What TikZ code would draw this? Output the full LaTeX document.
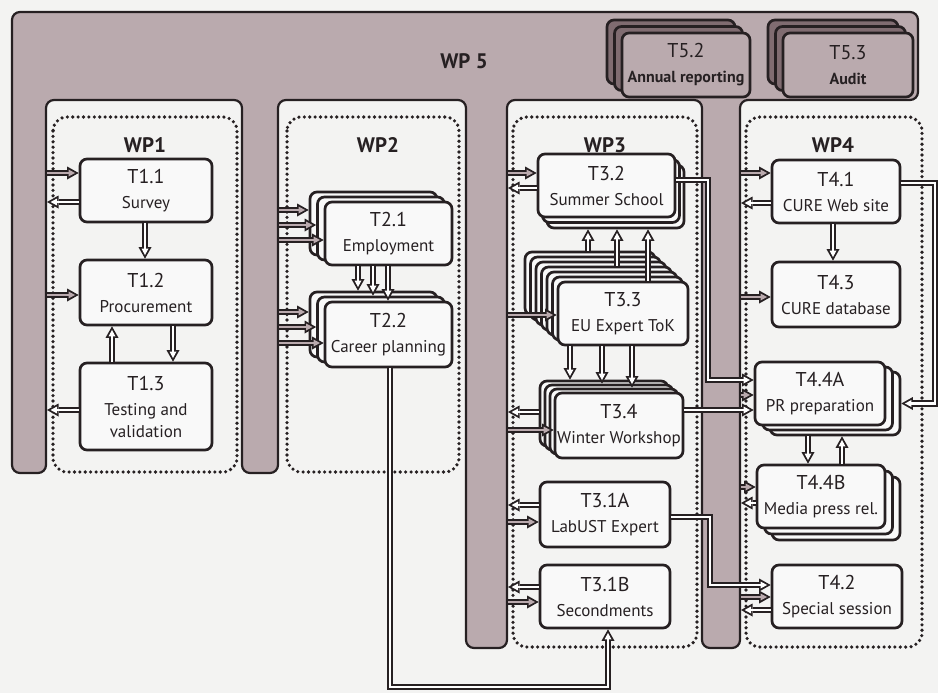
\documentclass[tikz,border=0pt]{standalone}
\usepackage{fontspec}
\setmainfont{PT Sans}
\usetikzlibrary{positioning, arrows.meta, calc}

\definecolor{ink}{RGB}{38,32,34}
\definecolor{wpfill}{RGB}{186,170,174}
\definecolor{wpdark}{RGB}{128,108,113}
\definecolor{paper}{RGB}{243,243,242}
\definecolor{boxfill}{RGB}{249,249,249}

\newcommand{\tfont}{\fontsize{20}{25}\selectfont}
\newcommand{\wfont}{\bfseries\fontsize{21}{25}\selectfont}
\newcommand{\tasksub}[1]{{\fontsize{17}{25}\selectfont #1}}

\begin{document}
\begin{tikzpicture}[
    x=1pt, y=-1pt, line join=miter,
    task/.style={draw=ink, fill=boxfill, line width=2.7pt, rounded corners=7pt,
                 align=center, inner sep=1pt, font=\tfont, text=ink,
                 minimum width=130pt, minimum height=63pt},
    wptask/.style={task, fill=wpfill},
    shade/.style={task, fill=wpdark},
    wpframe/.style={draw=ink, line width=3.6pt, dash pattern=on 0pt off 5.4pt,
                    line cap=round, rounded corners=14pt},
    wplabel/.style={font=\wfont, text=ink},
    dbl/.style={line width=2.4pt, shorten >=3.6pt,
                -{Triangle[length=6.5pt, width=7pt, line width=0pt]},
                preaction={draw=ink, line width=6.4pt, shorten >=0pt,
                           -{Triangle[length=11.5pt, width=13pt, line width=0pt]}}},
    link/.style={dbl, draw=white},
    back/.style={dbl, draw=white},
    feed/.style={dbl, draw=wpfill}
]
\fill[paper] (0,0) rectangle (938,693);
\useasboundingbox (0,0) rectangle (938,693);

% WP5 frame with its legs
\draw[fill=wpfill, draw=ink, line width=2.2pt, rounded corners=8pt]
  (12,473) -- (12,12) -- (918,12) -- (918,100) -- (740,100) -- (740,648)
  -- (702,648) -- (702,100) -- (507,100) -- (507,648) -- (466,648) -- (466,100)
  -- (278,100) -- (278,473) -- (242,473) -- (242,100) -- (46,100) -- (46,473) -- cycle;
\node[wplabel] (wp5) at (464,61) {WP 5};
\coordinate (leg1) at (47,0);
\coordinate (leg2) at (279,0);
\coordinate (leg3) at (508,0);
\coordinate (leg4) at (741,0);

\foreach \k in {2,1}
  \node[shade, minimum width=128pt, minimum height=64pt] (T52b\k) at ($(686,65)+\k*(-7.5,-6.5)$) {};
\node[wptask, minimum width=128pt, minimum height=64pt] (T52) at (686,65)
  {T5.2\\{\bfseries\fontsize{16}{25}\selectfont Annual reporting}};
\foreach \k in {2,1}
  \node[shade, minimum height=64pt] (T53b\k) at ($(848,65)+\k*(-7.5,-6.5)$) {};
\node[wptask, minimum height=64pt] (T53) at (848,65)
  {T5.3\\{\bfseries\fontsize{16}{25}\selectfont Audit}};

% work packages
\draw[wpframe] (53,117) rectangle (237,472);
\draw[wpframe] (287,117) rectangle (459,472);
\draw[wpframe] (513,117) rectangle (697,647);
\draw[wpframe] (746,117) rectangle (922,647);
\node[wplabel] (wp1) at (145,145) {WP1};
\node[wplabel] (wp2) at (378,145) {WP2};
\node[wplabel] (wp3) at (605,145) {WP3};
\node[wplabel] (wp4) at (833,145) {WP4};

% WP1
\node[task, minimum width=132pt] (T11) at (146,190.5) {T1.1\\\tasksub{Survey}};
\node[task, minimum width=132pt, minimum height=65pt] (T12) at (146,292.5) {T1.2\\\tasksub{Procurement}};
\node[task, minimum width=132pt, minimum height=87pt] (T13) at (146,406.5)
  {T1.3\\\tasksub{Testing and}\\[-3pt]\tasksub{validation}};

% WP2
\foreach \k in {2,1}
  \node[task, minimum width=127pt] (T21b\k) at ($(388.5,233.5)+\k*(-7.5,-5)$) {};
\node[task, minimum width=127pt] (T21) at (388.5,233.5) {T2.1\\\tasksub{Employment}};
\foreach \k in {2,1}
  \node[task, minimum width=127pt, minimum height=65pt] (T22b\k) at ($(388.5,334.5)+\k*(-7.5,-5)$) {};
\node[task, minimum width=127pt, minimum height=65pt] (T22) at (388.5,334.5) {T2.2\\\tasksub{Career planning}};

% WP3
\foreach \k in {2,1}
  \node[task, minimum width=137pt] (T32b\k) at ($(606.5,185.5)+\k*(4.5,5.5)$) {};
\node[task, minimum width=137pt] (T32) at (606.5,185.5) {T3.2\\\tasksub{Summer School}};
\foreach \k in {6,...,1}
  \node[task] (T33b\k) at ($(623,313.5)+\k*(-5.5,-5)$) {};
\node[task] (T33) at (623,313.5) {T3.3\\\tasksub{EU Expert ToK}};
\foreach \k in {3,2,1}
  \node[task, minimum width=128pt, minimum height=65pt] (T34b\k) at ($(619,425.5)+\k*(-5,-4)$) {};
\node[task, minimum width=128pt, minimum height=65pt] (T34) at (619,425.5) {T3.4\\\tasksub{Winter Workshop}};
\node[task, minimum height=65pt] (T31A) at (605,514.5) {T3.1A\\\tasksub{LabUST Expert}};
\node[task] (T31B) at (605,596.5) {T3.1B\\\tasksub{Secondments}};

% WP4
\node[task, minimum width=128pt] (T41) at (836,191.5) {T4.1\\\tasksub{CURE Web site}};
\node[task, minimum width=128pt, minimum height=65pt] (T43) at (836,294.5) {T4.3\\\tasksub{CURE database}};
\foreach \k in {2,1}
  \node[task] (T44Ab\k) at ($(820,393.5)+\k*(7.5,5)$) {};
\node[task] (T44A) at (820,393.5) {T4.4A\\\tasksub{PR preparation}};
\foreach \k in {2,1}
  \node[task, minimum width=128pt] (T44Bb\k) at ($(821,496.5)+\k*(7.5,6)$) {};
\node[task, minimum width=128pt] (T44B) at (821,496.5) {T4.4B\\\tasksub{Media press rel.}};
\node[task] (T42) at (837,596.5) {T4.2\\\tasksub{Special session}};

% bends
\coordinate (c1) at (708,300);
\coordinate (c2) at (710,550);
\coordinate (c3) at (500,687);
\coordinate (c4) at (935,300);

% from WP5 into the tasks
\foreach \t/\l/\d in {T11/leg1/17.5, T12/leg1/-2.5, T21b2/leg2/13.5, T21b1/leg2/3.5,
    T21/leg2/-6.5, T22b2/leg2/12.5, T22b1/leg2/2.5, T22/leg2/-8.5, T32/leg3/12.5,
    T33/leg3/-1.5, T34/leg3/-4.5, T31A/leg3/-7.5, T31B/leg3/-5.5, T41/leg4/18.5,
    T43/leg4/-2.5, T44A/leg4/-1.5, T44B/leg4/9.5, T42/leg4/-0.5}
  \draw[feed] ([yshift=\d pt]\t.west -| \l) -- ([yshift=\d pt]\t.west);
% back to WP5
\foreach \t/\l/\d in {T11/leg1/-11.5, T13/leg1/-3.5, T32/leg3/-2.5, T34b3/leg3/1.5,
    T31A/leg3/9.5, T31B/leg3/9.5, T41/leg4/-11.5, T44B/leg4/-6.5, T42/leg4/-13.5}
  \draw[back] ([yshift=\d pt]\t.west) -- ([yshift=\d pt]\t.west -| \l);

% between tasks
\draw[link] ([xshift=-1pt]T11.south) -- ([xshift=-1pt]T11.south |- T12.north);
\draw[link] ([xshift=-34pt]T13.north) -- ([xshift=-34pt]T13.north |- T12.south);
\draw[link] ([xshift=27pt]T12.south) -- ([xshift=27pt]T12.south |- T13.north);
\foreach \s/\t in {-30.5/T22b2, -15.5/T22b1, -0.5/T22}
  \draw[link] ([xshift=\s pt]T21.south) -- ([xshift=\s pt]T21.south |- \t.north);
\foreach \s/\f in {-35/T33b6, -6/T33b3, 25/T33}
  \draw[link] ([xshift=\s pt]T33.north |- \f.north) -- ([xshift=\s pt]T33.north |- T32b2.south);
\foreach \s/\t in {-53/T34b3, -21/T34b2, 9/T34b1}
  \draw[link] ([xshift=\s pt]T33.south) -- ([xshift=\s pt]T33.south |- \t.north);
\draw[link] ([xshift=-3pt]T41.south) -- ([xshift=-3pt]T41.south |- T43.north);
\draw[link] ([xshift=-12pt]T44A.south |- T44Ab2.south) -- ([xshift=-12pt]T44A.south |- T44B.north);
\draw[link] ([xshift=22pt]T44A.south |- T44B.north) -- ([xshift=22pt]T44A.south |- T44Ab2.south);
\draw[link] ([yshift=8.5pt]T41.east) -| (c4) |- (T44Ab2.east);
\draw[link] ([yshift=5.5pt]T32.east) -| (c1) |- ([yshift=13.5pt]T44A.west);
\draw[link] ([yshift=15.5pt]T34.east) -- ([yshift=-16.5pt]T44A.west);
\draw[link] ([yshift=-2.5pt]T31A.east) -| (c2) |- ([yshift=11.5pt]T42.west);
\draw[link] ([xshift=1.5pt]T22.south) |- (c3) -| ([xshift=3pt]T31B.south);
\end{tikzpicture}
\end{document}
